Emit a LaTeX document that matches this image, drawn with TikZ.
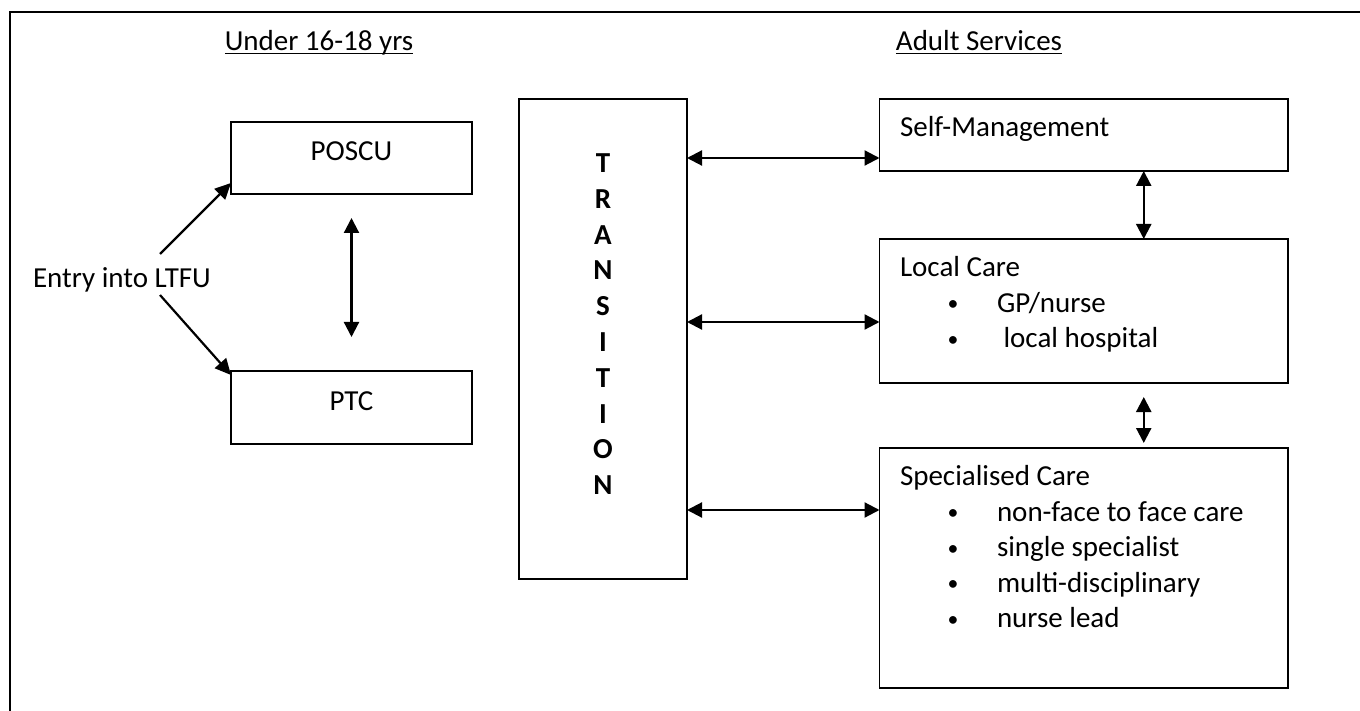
\documentclass[tikz,border=0pt]{standalone}
\usepackage{fontspec}
\setmainfont{Carlito}
\usetikzlibrary{arrows.meta}
\newcommand{\bitem}[1]{\\\hspace*{26.5pt}\makebox[0pt]{\raisebox{0.9pt}{\scalebox{0.75}{•}}}\hspace*{22pt}#1}

\begin{document}
\begin{tikzpicture}[
        x=0.5pt, y=-0.5pt,
        font=\fontsize{14.5pt}{17.75pt}\selectfont,
        box/.style={
          draw,
          line width=0.7pt,
          inner sep=0pt,
          outer sep=0pt
        },
        boxtext/.style={
          inner sep=0pt,
          outer sep=0pt,
          align=left,
          anchor=north west
        },
        conn/.style={line width=1.1pt, -{Triangle[length=8pt,width=7.5pt]}},
        dbl/.style={line width=1.1pt,
          {Triangle[length=7.5pt,width=7.5pt]}-{Triangle[length=7.5pt,width=7.5pt]}}
      ]
      \useasboundingbox (0,0) rectangle (1360,711);
      \draw[line width=0.8pt] (10,760) -- (10,12) -- (1400,12);

      \node[anchor=base] (under) at (319,51) {\underline{\smash{Under 16-18 yrs}}};
      \node[anchor=base] (adult) at (979,51) {\underline{\smash{Adult Services}}};

      \node[anchor=base] (entry) at (122,288) {Entry into LTFU};
      \coordinate (e1) at (160,254);
      \coordinate (e2) at (160,295);

      \node[box, minimum width=120.5pt, minimum height=36pt] (poscu) at (351.5,158) {};
      \node[anchor=base] (poscu-t) at ([yshift=-19.5pt]poscu.north) {POSCU};
      \node[box, minimum width=120.5pt, minimum height=36.5pt] (ptc) at (351.5,407.5) {};
      \node[anchor=base] (ptc-t) at ([yshift=-19.5pt]ptc.north) {PTC};

      \node[box, minimum width=84pt, minimum height=240pt] (trans) at (603,339) {};
      \node[font=\fontsize{14.5pt}{17.9pt}\selectfont\bfseries, align=center,
        anchor=north, inner sep=0pt] (trans-t) at ([yshift=-24pt]trans.north)
        {\strut T\\R\\A\\N\\S\\I\\T\\I\\O\\N};

      \node[box, minimum width=204.25pt, minimum height=36pt] (selfm) at (1083.75,135) {};
      \node[boxtext] (selfm-t) at ([shift={(20.5,13)}]selfm.north west)
        {\strut Self-Management};
      \node[box, minimum width=204.25pt, minimum height=72pt] (lcare) at (1083.75,311) {};
      \node[boxtext] (lcare-t) at ([shift={(20.5,13)}]lcare.north west)
        {\strut Local Care\bitem{GP/nurse}\bitem{\ local hospital}};
      \node[box, minimum width=204.25pt, minimum height=120pt] (spec) at (1083.75,568) {};
      \node[boxtext] (spec-t) at ([shift={(20.5,13)}]spec.north west)
        {\strut Specialised Care\bitem{non-face to face care}\bitem{single specialist}%
         \bitem{multi-disciplinary}\bitem{nurse lead}};

      \draw[conn] (e1) -- ([yshift=5.5pt]poscu.south west);
      \draw[conn] (e2) -- ([yshift=-2pt]ptc.north west);
      \draw[dbl] ([yshift=-12pt]poscu.south) -- ([yshift=17pt]ptc.north);

      \coordinate (sm-in) at ([yshift=-11.5pt]selfm.west);
      \coordinate (lc-in) at ([yshift=-5.5pt]lcare.west);
      \coordinate (sc-in) at ([yshift=29pt]spec.west);
      \draw[dbl] (trans.east |- sm-in) -- (sm-in);
      \draw[dbl] (trans.east |- lc-in) -- (lc-in);
      \draw[dbl] (trans.east |- sc-in) -- (sc-in);

      \draw[dbl] ([xshift=30pt]selfm.south) -- ([xshift=30pt]lcare.north);
      \draw[dbl] ([shift={(30pt,-7pt)}]lcare.south) -- ([shift={(30pt,2.5pt)}]spec.north);
    \end{tikzpicture}
\end{document}
